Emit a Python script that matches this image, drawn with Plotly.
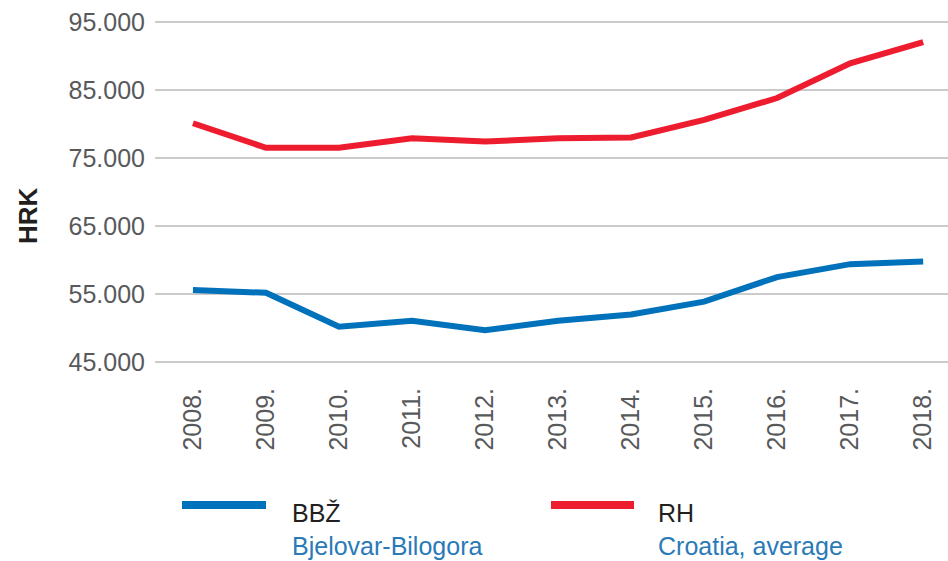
import plotly.graph_objects as go

years = ["2008.", "2009.", "2010.", "2011.", "2012.", "2013.", "2014.", "2015.", "2016.", "2017.", "2018."]
bbz = [55600, 55200, 50200, 51100, 49700, 51100, 52000, 53900, 57500, 59400, 59800]
rh = [80100, 76500, 76500, 77900, 77400, 77900, 78000, 80600, 83800, 88900, 92000]
y_ticks = [45000, 55000, 65000, 75000, 85000, 95000]
y_tick_text = ["45.000", "55.000", "65.000", "75.000", "85.000", "95.000"]
series_names = ["BBŽ", "RH"]
series_desc = ["Bjelovar-Bilogora", "Croatia, average"]
axis_title = "HRK"

BLUE = "#0072BC"
RED = "#ED1C2E"
FONT = "Liberation Sans, Arial, sans-serif"

W, H = 948, 561
L, R, T, B = 155, 0, 15, 192
PW = W - L - R
PH = H - T - B


def px_x(p):
    return (p - L) / PW


def px_y(p):
    return (H - B - p) / PH


fig = go.Figure()
fig.add_trace(go.Scatter(x=years, y=bbz, mode="lines", name=series_names[0],
                         line=dict(color=BLUE, width=6), showlegend=False))
fig.add_trace(go.Scatter(x=years, y=rh, mode="lines", name=series_names[1],
                         line=dict(color=RED, width=6), showlegend=False))

fig.update_layout(
    width=W, height=H,
    margin=dict(l=L, r=R, t=T, b=B, pad=0),
    paper_bgcolor="white", plot_bgcolor="white",
    font=dict(family=FONT, size=25, color="#58595B"),
    showlegend=False,
)
fig.update_xaxes(
    type="category", range=[-0.52, 10.34],
    tickangle=-90, ticks="outside", ticklen=8, tickcolor="rgba(0,0,0,0)",
    showgrid=False, showline=False, zeroline=False,
    tickfont=dict(size=25, color="#58595B"),
)
fig.update_yaxes(
    range=[44000, 96000], tickvals=y_ticks, ticktext=y_tick_text,
    ticks="outside", ticklen=4, tickcolor="rgba(0,0,0,0)",
    showgrid=True, gridcolor="#CBCBCB", gridwidth=2,
    showline=False, zeroline=False,
    tickfont=dict(size=25, color="#58595B"),
)

# axis title
fig.add_annotation(text="<b>" + axis_title + "</b>", xref="paper", yref="paper",
                   x=px_x(28), y=px_y(216), textangle=-90, showarrow=False,
                   font=dict(size=26, color="#231F20", family=FONT),
                   xanchor="center", yanchor="middle")

# custom legend
legend_specs = [
    (BLUE, 182, 266, 290, "#2A7AB8"),
    (RED, 551, 634, 656, "#2A7AB8"),
]
for (col, x0, x1, tx, desc_col), name, desc in zip(legend_specs, series_names, series_desc):
    fig.add_shape(type="line", xref="paper", yref="paper",
                  x0=px_x(x0), x1=px_x(x1), y0=px_y(505), y1=px_y(505),
                  line=dict(color=col, width=8))
    fig.add_annotation(text=name, xref="paper", yref="paper",
                       x=px_x(tx), y=px_y(513), showarrow=False,
                       xanchor="left", yanchor="middle",
                       font=dict(size=25, color="#231F20", family=FONT))
    fig.add_annotation(text=desc, xref="paper", yref="paper",
                       x=px_x(tx), y=px_y(546), showarrow=False,
                       xanchor="left", yanchor="middle",
                       font=dict(size=25, color=desc_col, family=FONT))

fig.write_html("out.html", config={"displayModeBar": False},
               post_script="document.body.style.margin='0';document.body.style.padding='0';")
